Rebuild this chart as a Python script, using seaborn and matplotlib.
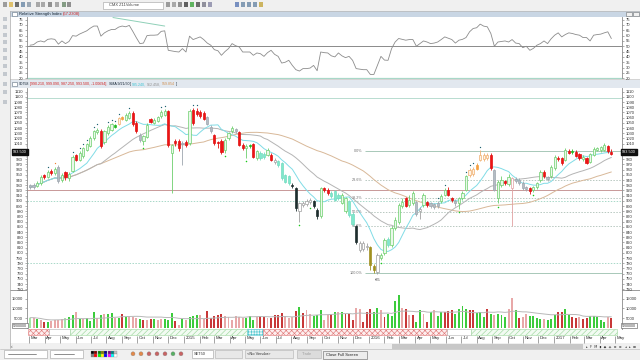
import numpy as np
import pandas as pd
import matplotlib
matplotlib.use("Agg")
import matplotlib.pyplot as plt
import matplotlib.transforms as mtrans
from matplotlib.patches import Rectangle
import seaborn as sns

sns.set_theme(style="white")
plt.rcParams["font.family"] = ["Liberation Sans", "DejaVu Sans"]
plt.rcParams["hatch.linewidth"] = 0.45

# ---------------- data (weekly bars) ----------------
start_date = "2014-03-03"

opens = [930, 927, 929, 934, 949, 945, 957, 953, 966, 941,
         955, 943, 957, 989, 979, 986, 998, 1006, 1021, 1032,
         1035, 1014, 1030, 1037, 1043, 1047, 1058, 1056, 1060, 1069,
         1050, 1027, 1016, 1022, 1058, 1050, 1054, 1063, 1066, 1072,
         992, 1016, 1016, 1012, 1014, 1011, 1075, 1072, 1071, 1069,
         1061, 1043, 1026, 1013, 1016, 998, 1020, 1034, 1038, 1032,
         1008, 1002, 1005, 1009, 982, 992, 990, 989, 989, 979,
         976, 973, 949, 947, 931, 924, 880, 892, 894, 897,
         899, 883, 870, 924, 921, 916, 918, 912, 896, 880,
         899, 875, 851, 806, 808, 812, 812, 774, 764, 790,
         800, 827, 815, 848, 860, 890, 905, 892, 896, 897,
         880, 892, 897, 895, 893, 890, 899, 912, 921, 905,
         900, 896, 905, 921, 949, 952, 962, 979, 980, 983,
         989, 960, 905, 930, 938, 932, 944, 938, 940, 935,
         926, 924, 920, 926, 940, 956, 945, 947, 963, 983,
         982, 979, 996, 994, 994, 990, 980, 982, 975, 989,
         998, 997, 998, 1005, 990.21]
highs = [933, 934, 938, 949, 952, 960, 961, 966, 968, 953,
         958, 956, 988, 991, 995, 1004, 1012, 1024, 1037, 1041,
         1038, 1037, 1046, 1050, 1048, 1061, 1064, 1069, 1073, 1072,
         1053, 1030, 1027, 1049, 1060, 1059, 1064, 1074, 1076, 1074,
         1010, 1019, 1019, 1015, 1017, 1076, 1078, 1079, 1074, 1072,
         1064, 1046, 1029, 1016, 1019, 1021, 1033, 1044, 1041, 1035,
         1011, 1009, 1010, 1012, 998, 995, 994, 1001, 992, 982,
         978, 975, 952, 950, 934, 926, 898, 900, 903, 906,
         902, 886, 927, 927, 924, 919, 920, 915, 915, 908,
         902, 878, 853, 822, 822, 818, 814, 778, 800, 800,
         829, 831, 851, 868, 895, 906, 908, 912, 918, 900,
         888, 915, 900, 898, 896, 900, 913, 924, 926, 908,
         903, 908, 918, 950, 963, 966, 972, 997, 992, 993,
         992, 962, 940, 948, 941, 952, 946, 945, 944, 938,
         929, 927, 929, 937, 959, 959, 948, 969, 988, 986,
         985, 1001, 999, 999, 997, 993, 988, 985, 993, 1003,
         1004, 1006, 1011, 1008, 999.09]
lows = [922, 923, 926, 931, 942, 943, 950, 950, 935, 936,
        940, 938, 955, 976, 976, 983, 995, 1003, 1018, 1029,
        1001, 1010, 1027, 1034, 1041, 1045, 1056, 1054, 1058, 1044,
        1031, 1014, 1008, 1020, 1049, 1048, 1051, 1060, 1064, 1004,
        915, 1006, 996, 969, 1003, 1008, 1046, 1064, 1060, 1055,
        1045, 1031, 1007, 1001, 990, 992, 1017, 1031, 1030, 1005,
        998, 982, 1002, 982, 978, 979, 981, 986, 976, 970,
        965, 941, 934, 931, 925, 880, 860, 888, 890, 893,
        887, 866, 867, 917, 911, 906, 899, 901, 893, 876,
        869, 851, 817, 802, 804, 806, 767, 761, 760, 786,
        796, 811, 812, 844, 856, 886, 888, 888, 892, 870,
        865, 888, 888, 886, 884, 886, 895, 909, 909, 897,
        890, 885, 902, 918, 946, 948, 960, 976, 976, 979,
        960, 918, 895, 926, 931, 929, 852, 935, 931, 921,
        918, 914, 917, 923, 936, 944, 939, 944, 960, 976,
        968, 976, 990, 991, 984, 979, 977, 970, 972, 986,
        995, 994, 995, 992, 987.25]
closes = [926, 930, 935, 946, 945, 955, 954, 962, 938, 950,
          945, 952, 985, 979, 992, 1001, 1009, 1021, 1034, 1037,
          1005, 1034, 1043, 1047, 1045, 1059, 1062, 1066, 1069, 1047,
          1035, 1017, 1024, 1046, 1052, 1056, 1061, 1071, 1072, 1007,
          1007, 1011, 1001, 1010, 1007, 1072, 1050, 1068, 1064, 1058,
          1048, 1034, 1011, 1011, 994, 1018, 1030, 1040, 1034, 1008,
          1002, 1006, 1007, 985, 995, 982, 985, 998, 979, 974,
          968, 944, 937, 934, 928, 886, 895, 896, 899, 902,
          891, 870, 924, 921, 915, 910, 902, 905, 912, 905,
          873, 855, 820, 818, 818, 814, 777, 766, 796, 795,
          825, 815, 848, 864, 892, 898, 891, 902, 915, 874,
          884, 912, 892, 890, 888, 896, 910, 920, 912, 901,
          895, 905, 915, 947, 960, 962, 969, 989, 988, 989,
          963, 921, 937, 940, 935, 945, 925, 942, 935, 924,
          922, 918, 926, 934, 956, 947, 942, 966, 985, 980,
          973, 998, 993, 996, 987, 982, 985, 973, 990, 1000,
          1001, 1003, 1008, 995, 993.5]
candle_kind = ["y", "y", "g", "g", "r", "g", "r", "g", "y", "g",
               "r", "g", "g", "r", "g", "g", "g", "g", "g", "g",
               "r", "g", "g", "g", "G", "o", "of", "g", "g", "r",
               "r", "y", "g", "g", "r", "g", "g", "g", "g", "r",
               "g", "r", "r", "y", "r", "g", "r", "r", "r", "r",
               "y", "y", "r", "r", "r", "g", "g", "g", "y", "r",
               "r", "g", "G", "r", "g", "c", "c", "g", "r", "w",
               "c", "c", "c", "c", "k", "k", "w", "w", "w", "w",
               "k", "k", "g", "r", "r", "c", "c", "c", "g", "g",
               "c", "c", "k", "w", "w", "w", "ol", "ol", "w", "g",
               "g", "c", "g", "g", "g", "g", "r", "g", "g", "y",
               "w", "g", "r", "y", "y", "y", "g", "g", "r", "r",
               "y", "g", "g", "g", "o", "o", "of", "o", "o", "o",
               "r", "y", "g", "g", "r", "g", "p", "y", "y", "y",
               "y", "r", "g", "g", "g", "r", "y", "g", "g", "r",
               "r", "g", "r", "G", "r", "r", "g", "r", "g", "g",
               "g", "g", "g", "r", "r"]

volume = [5200, 5200, 4600, 4100, 2900, 2900, 3300, 4100, 4100, 4600,
          5000, 5500, 6700, 8100, 4600, 4600, 5000, 3300, 8100, 5000,
          6700, 7100, 6900, 7400, 5000, 5000, 7200, 5300, 5700, 5500,
          5000, 4600, 3800, 4100, 4300, 4300, 4100, 4600, 4600, 4100,
          7700, 3300, 1500, 4600, 4100, 5500, 6000, 6400, 6700, 4300,
          8400, 5000, 5800, 6700, 7200, 5800, 5500, 4100, 6000, 5500,
          5200, 5200, 6000, 4100, 5500, 6000, 5500, 5200, 5000, 6700,
          6400, 7600, 6000, 5200, 5500, 8600, 10700, 7700, 9300, 7200,
          6000, 6400, 9300, 4100, 6700, 7200, 8100, 8100, 8100, 7200,
          7200, 4100, 10300, 9800, 2900, 8100, 9800, 8100, 10300, 8900,
          5500, 7100, 5800, 13800, 16700, 10200, 9600, 6400, 6400, 2900,
          8900, 6900, 2900, 8100, 8900, 5800, 8100, 8100, 8400, 8900,
          7200, 9800, 11200, 9500, 8900, 8900, 7700, 8100, 5500, 9500,
          7000, 6400, 6900, 6400, 5500, 9800, 15500, 8900, 5000, 5500,
          6900, 6000, 6000, 5200, 4600, 4300, 3800, 4600, 6400, 8100,
          8100, 9800, 6700, 5500, 5000, 5500, 4600, 5200, 6000, 6000,
          5500, 4100, 2900, 5500, 5200]
volume_kind = ["l", "p", "G", "p", "R", "G", "p", "p", "p", "p",
               "l", "G", "G", "p", "G", "p", "G", "G", "G", "p",
               "G", "p", "G", "G", "p", "G", "R", "G", "p", "p",
               "p", "G", "R", "p", "R", "G", "p", "p", "G", "G",
               "G", "R", "p", "G", "p", "G", "G", "G", "p", "p",
               "R", "R", "R", "R", "R", "p", "p", "p", "p", "p",
               "p", "G", "G", "G", "p", "R", "R", "p", "R", "R",
               "R", "R", "p", "p", "p", "R", "G", "R", "p", "p",
               "G", "G", "G", "p", "p", "R", "G", "p", "G", "R",
               "R", "R", "p", "p", "R", "R", "R", "G", "G", "p",
               "R", "G", "G", "G", "G", "p", "R", "p", "R", "G",
               "G", "p", "R", "G", "p", "G", "G", "R", "R", "R",
               "G", "G", "G", "G", "R", "R", "G", "G", "G", "R",
               "G", "p", "G", "G", "G", "p", "p", "G", "R", "p",
               "p", "G", "G", "G", "G", "p", "G", "G", "G", "R",
               "R", "G", "G", "R", "R", "p", "R", "R", "G", "G",
               "G", "G", "G", "p", "R"]

rsi = [51, 51.5, 54, 55, 54, 56.5, 57, 56.5, 52, 55,
       52.5, 54.5, 60, 59.5, 61.5, 63, 64.5, 67, 69, 69,
       59.5, 62.6, 64.5, 65.8, 65.8, 68, 69, 68.3, 69.6, 64,
       58, 52.5, 53, 60, 60.4, 60.4, 60.7, 64, 64.5, 46.2,
       45.6, 45, 44.6, 47.8, 44.6, 59.5, 56.3, 57.5, 58.8, 56.3,
       53, 51, 46.8, 45.8, 41.5, 45, 47.8, 52.5, 50.5, 49.4,
       44.6, 44.6, 44.6, 41.5, 43.7, 43, 40.5, 44, 46.2, 42.4,
       40.5, 34.2, 35, 36.8, 32, 28, 26.7, 29, 29, 29.5,
       32, 27, 44.6, 44, 43.7, 41, 40, 43.7, 41, 39.3,
       40.5, 36.8, 29, 28.5, 28, 28, 23.5, 23.5, 32, 40.5,
       37, 36.8, 47.8, 54, 57.3, 56.5, 55.7, 56.3, 56.3, 50,
       52.5, 55, 54, 52.5, 53, 54, 56.3, 58.8, 57.5, 56.3,
       53, 55.7, 56.5, 58.2, 63.6, 66.7, 67.4, 70.8, 68.9, 68.3,
       62, 50, 54, 54.5, 55, 54, 56.3, 53, 52.5, 48.7,
       50, 46.2, 48, 51, 52.5, 55, 52.5, 57, 60.4, 62.6,
       58.8, 61, 62.6, 62, 61, 60.4, 58.2, 58.2, 55, 60.4,
       61, 61.4, 62.6, 63.6, 57.23]

dots_above = [5, 12, 14, 15, 16, 18, 19, 22, 23, 24, 25, 28, 37, 38, 46, 47,
              115, 117, 123, 124, 125, 127]
dots_above_orange = [7]
dots_below = [32, 55, 61, 76, 79, 99, 121, 132, 142]

fib_high, fib_low = 996.3, 760.7
fib_levels = [0.0, 23.6, 38.2, 50.0, 61.8, 100.0]
fib_start_week = 94.5
level_lines = [1098, 920, 900, 780]
rsi_trend_x = [23.4, 38.0]
rsi_trend_y = [77.0, 69.0]

strip_bounds = [-0.6, 5.4, 11.3, 61.1, 65.8, 117.5, 124.5, 165.5]
strip_kind = ["red", "blank", "green", "cyan", "red", "blank", "green"]

month_names = ["Jan", "Feb", "Mar", "Apr", "May", "Jun", "Jul", "Aug",
               "Sep", "Oct", "Nov", "Dec"]

rsi_title = [("Relative Strength Index", "#102030"), ("(57.2308)", "#d02020")]
price_title = [("S0758", "#102030"),
               ("[990.210, 999.090, 987.250, 993.500, -1.00694],", "#d02020"),
               ("SMA 9/21/50", "#102030"), ("[", "#102030"),
               ("985.240,", "#3cc4d4"), ("962.458,", "#909090"),
               ("959.854", "#d09050"), ("]", "#102030")]

# ---------------- derived ----------------
n = len(closes)
idx = np.arange(n)
t0 = pd.Timestamp(start_date)
df = pd.DataFrame({"week": idx, "open": opens, "high": highs, "low": lows,
                   "close": closes, "volume": volume, "rsi": rsi})
df["sma9"] = df["close"].rolling(9, min_periods=1).mean()
df["sma21"] = df["close"].rolling(21, min_periods=1).mean()
df["sma50"] = df["close"].rolling(50, min_periods=1).mean()
df["vma"] = df["volume"].rolling(20, min_periods=1).mean()

XL = (-0.85, 167.0)

W, H = 640, 360
fig = plt.figure(figsize=(W / 100, H / 100), dpi=100)
fig.patch.set_facecolor("#f0f0f0")
renderer = fig.canvas.get_renderer()


def px_axes(x0, y0, x1, y1, z=2):
    ax = fig.add_axes([x0 / W, 1 - y1 / H, (x1 - x0) / W, (y1 - y0) / H])
    ax.set_zorder(z)
    return ax


bg = px_axes(0, 0, W, H, z=0)
bg.set_xlim(0, W)
bg.set_ylim(H, 0)
bg.axis("off")


def rect(x, y, w, h, fc, ec="none", lw=0.0, **kw):
    bg.add_patch(Rectangle((x, y), w, h, facecolor=fc, edgecolor=ec,
                           linewidth=lw, **kw))


def txt(x, y, s, size=3.2, color="#202020", **kw):
    return bg.text(x, y, s, fontsize=size, color=color, va="center", **kw)


def seq_text(x, y, parts, size, gap=1.3):
    for s, col in parts:
        t = txt(x, y, s, size=size, color=col)
        x += t.get_window_extent(renderer=renderer).width + gap
    return x


# chrome: panels
rect(9.5, 10.5, 630.5, 6.5, "#c9d6e4")
rect(9.5, 17, 630.5, 61.5, "white")
rect(9.5, 78.5, 630.5, 1.8, "#d4d4d4")
rect(9.5, 80.3, 630.5, 7.7, "#e2e8ef")
rect(9.5, 88, 630.5, 255, "white")
bg.plot([9.5, 640], [290.3, 290.3], color="#9a9a9a", lw=0.7)
bg.plot([9.5, 640], [10.5, 10.5], color="#b8b8b8", lw=0.5)
bg.plot([9.5, 9.5], [10.5, 348], color="#a8a8a8", lw=0.5)
# top toolbar icons
for x, c in [(3, "#808080"), (9, "#d8b040"), (15, "#404040"), (21, "#6080a0"),
             (27, "#8090a0"), (36, "#909090"), (41, "#909090"), (48, "#707070"),
             (55, "#909090"), (62, "#608060"), (67, "#707070")]:
    rect(x, 2.2, 4.2, 5.0, c, alpha=0.75)
rect(103, 1.5, 60, 7, "white", ec="#a0a0a0", lw=0.4)
txt(109, 5, "CMX Z11Volume", size=2.9, color="#404040")
for x, c in [(166, "#808080"), (172, "#909090"), (178, "#707070"), (184, "#303030"),
             (190, "#30a030"), (196, "#404040"), (202, "#707080"), (208, "#8080a0"),
             (235, "#5070b0"), (241, "#6080a0"), (247, "#6080a0"), (253, "#6080a0"),
             (259, "#c0a030")]:
    rect(x, 2.2, 4.2, 5.0, c, alpha=0.75)
# left toolbar icons
for y in [17, 25, 33, 40, 48, 56, 64, 72, 82, 90, 100]:
    rect(2.5, y, 4, 4, "#b0b8c0", alpha=0.7)
rect(12, 11.7, 5, 4.3, "white", ec="#607080", lw=0.4)
seq_text(19, 13.8, rsi_title, size=3.0)
for x in [626, 633]:
    rect(x, 11.5, 5.5, 4.8, "#f0f0f0", ec="#707070", lw=0.4)
rect(12, 81.7, 5, 4.3, "white", ec="#607080", lw=0.4)
seq_text(19, 84.2, price_title, size=2.6, gap=1.0)
# scrollbar + bottom toolbar
rect(9.5, 343, 630.5, 5.5, "#f0f0f0")
rect(392, 344, 191, 4.5, "#c8c8c8")
txt(586, 346.2, "▸  F  M  ▮  ◆  ◈  ⊙  ⊙   ◂  ▸  ⊟", size=2.5, color="#303030",
    family=["DejaVu Sans"])
txt(11, 346, "‹", size=3.5, color="#404040")
bg.plot([0, 640], [348.5, 348.5], color="#c0c0c0", lw=0.5)
rect(4, 350, 43, 7.5, "white", ec="#a0a0a0", lw=0.4)
bg.plot([8, 36], [353.8, 353.8], color="#606060", lw=0.5)
rect(50, 350, 33, 7.5, "white", ec="#a0a0a0", lw=0.4)
bg.plot([54, 74], [353.8, 353.8], color="#606060", lw=0.5)
pal = ["#000000", "#800000", "#008000", "#808000", "#000080", "#800080", "#008080", "#c0c0c0",
       "#808080", "#ff0000", "#00ff00", "#ffff00", "#0000ff", "#ff00ff", "#00ffff", "#ffffff"]
for k, c in enumerate(pal):
    rect(91 + (k % 8) * 3.3, 350.5 + (k // 8) * 3.3, 3.0, 3.0, c, ec="#808080", lw=0.2)
for x, c in [(131, "#e07020"), (139, "#e07020"), (147, "#c04040"), (155, "#c04040"),
             (163, "#c04040"), (171, "#30a040"), (179, "#c04040")]:
    bg.add_patch(plt.Circle((x + 2, 353.8), 2.0, facecolor=c, edgecolor="#808080",
                            linewidth=0.3, alpha=0.8))
rect(192, 350, 21, 7.5, "white", ec="#a0a0a0", lw=0.4)
txt(194, 353.8, "SET50", size=2.9, color="#303030")
rect(215, 350, 27, 7.5, "#e8e8e8", ec="#b0b0b0", lw=0.4)
rect(245, 350, 48, 7.5, "#e8e8e8", ec="#b0b0b0", lw=0.4)
txt(247, 353.8, "<No Vendor>", size=2.9, color="#303030")
rect(297, 350, 24, 7.5, "#dcdcdc", ec="#b0b0b0", lw=0.4)
txt(302, 353.8, "Trade", size=2.9, color="#a0a0a0")
rect(323, 350.5, 44, 8, "#ececec", ec="#808080", lw=0.5)
txt(326, 354.5, "Close Full Screen", size=3.0, color="#202020")


def style_panel(ax):
    ax.set_facecolor("white")
    for s in ["top", "bottom"]:
        ax.spines[s].set_visible(False)
    for s in ["left", "right"]:
        ax.spines[s].set_visible(True)
        ax.spines[s].set_color("#8a8a8a")
        ax.spines[s].set_linewidth(0.6)
    ax.tick_params(axis="y", which="both", left=True, right=True, labelleft=True,
                   labelright=True, length=1.6, width=0.4, color="#707070",
                   labelsize=3.0, labelcolor="#303030", pad=1.2)
    ax.tick_params(axis="x", bottom=False, labelbottom=False)
    ax.set_xlim(*XL)
    ax.grid(False)
    ax.set_xlabel("")
    ax.set_ylabel("")


# ---------------- RSI panel ----------------
ax_rsi = px_axes(27, 17, 622, 78.5)
sns.lineplot(data=df, x="week", y="rsi", ax=ax_rsi, color="#8c8c8c", lw=0.6,
             legend=False)
ax_rsi.axhline(50, color="#8a8a8a", lw=0.7)
ax_rsi.axhline(20, color="#a8d8c8", lw=0.9)
ax_rsi.plot(rsi_trend_x, rsi_trend_y, color="#8fd0b8", lw=0.7)
ax_rsi.set_ylim(19.7, 77.5)
ax_rsi.set_yticks(np.arange(20, 80, 5))
style_panel(ax_rsi)

# ---------------- price panel ----------------
ax_p = px_axes(27, 88, 622, 290.3)
style_panel(ax_p)
face_map = {"g": "#eaf8ea", "G": "#22bb22", "r": "#ee1414", "y": "#b4bcc4",
            "o": "#fff3e4", "of": "#f5a040", "c": "#80e8cc", "k": "#1e2e2e",
            "w": "#ffffff", "p": "#ffffff", "ol": "#a09020"}
edge_map = {"g": "#6ccf6c", "G": "#22bb22", "r": "#e01010", "y": "#9ea6ae",
            "o": "#f0b070", "of": "#f5a040", "c": "#74dcc0", "k": "#1e2e2e",
            "w": "#a0a0a0", "p": "#e0a0a0", "ol": "#a09020"}
faces = [face_map[k] for k in candle_kind]
edges = [edge_map[k] for k in candle_kind]
o = np.array(opens, float)
c = np.array(closes, float)
body_bottom = np.minimum(o, c)
body_h = np.maximum(np.abs(c - o), 1.2)

for lv, col, ls in zip(level_lines, ["#b8dcd0", "#c89898", "#a8d8c8", "#a8d8c8"],
                       ["-", "-", (0, (1.5, 1.5)), (0, (1.5, 1.5))]):
    ax_p.axhline(lv, color=col, lw=0.7, ls=ls, zorder=1)
for lvl in fib_levels:
    price = fib_high - lvl / 100.0 * (fib_high - fib_low)
    solid = lvl in (0.0, 100.0)
    ax_p.hlines(price, fib_start_week, XL[1], color="#a8c8b8" if solid else "#b8c8c0",
                lw=0.7, ls="-" if solid else (0, (1.5, 1.5)), zorder=1)
    ax_p.text(fib_start_week - 0.8, price, f"{lvl:.1f}%", fontsize=2.7,
              color="#707070", ha="right", va="center")

sns.lineplot(data=df, x="week", y="sma50", ax=ax_p, color="#d8b898", lw=0.7,
             legend=False, zorder=2)
sns.lineplot(data=df, x="week", y="sma21", ax=ax_p, color="#b4b4b4", lw=0.7,
             legend=False, zorder=2)
sns.lineplot(data=df, x="week", y="sma9", ax=ax_p, color="#80dce6", lw=0.7,
             legend=False, zorder=2)
ax_p.vlines(idx, lows, highs, colors=edges, lw=0.6, zorder=3)
ax_p.bar(idx, body_h, bottom=body_bottom, width=0.62, color=faces, edgecolor=edges,
         linewidth=0.5, zorder=4)
hi = np.array(highs, float)
lo = np.array(lows, float)
ax_p.scatter(np.array(dots_above), hi[dots_above] + 6, s=0.9, color="#1d6070", zorder=5,
             linewidths=0)
ax_p.scatter(np.array(dots_above_orange), hi[dots_above_orange] + 6, s=0.9,
             color="#f08030", zorder=5, linewidths=0)
ax_p.scatter(np.array(dots_below), lo[dots_below] - 6, s=1.2, color="#18c818", zorder=5,
             linewidths=0)
low_i = int(np.argmin(lows))
ax_p.text(low_i, lows[low_i] - 13, "•35", fontsize=2.7, color="#404040", ha="center",
          va="center")
ax_p.set_ylim(727.9, 1117.1)
price_ticks = np.arange(730, 1111, 10)
ax_p.set_yticks(price_ticks)
ax_p.set_yticks(np.arange(730, 1115, 5), minor=True)
style_panel(ax_p)
ax_p.tick_params(axis="y", which="minor", labelleft=False, labelright=False,
                 length=0.9, width=0.3)
last = closes[-1]
# the current-price badges sit on top of the tick labels they cover
for tk, val in zip(ax_p.yaxis.get_major_ticks(), price_ticks):
    if abs(val - last) < 7:
        tk.label1.set_visible(False)
        tk.label2.set_visible(False)
blend_r = mtrans.blended_transform_factory(ax_p.transAxes, ax_p.transData)
ax_p.text(1.0, last, f"{last:.3f}", transform=blend_r, ha="left", va="center",
          fontsize=2.8, color="white", clip_on=False, zorder=10,
          bbox=dict(boxstyle="square,pad=0.2", fc="#101010", ec="#101010"))
ax_p.text(0.0, last, f"{last:.3f}", transform=blend_r, ha="right", va="center",
          fontsize=2.8, color="white", clip_on=False, zorder=10,
          bbox=dict(boxstyle="square,pad=0.2", fc="#101010", ec="#101010"))

# ---------------- volume panel ----------------
ax_v = px_axes(27, 290.3, 622, 328.5)
vcol = {"G": "#3ccc3c", "l": "#a6e4a6", "R": "#c83838", "p": "#e8a8a8"}
ax_v.bar(idx, volume, width=0.55, color=[vcol[k] for k in volume_kind], linewidth=0,
         zorder=2)
sns.lineplot(data=df, x="week", y="vma", ax=ax_v, color="#b8b8b8", lw=0.7,
             legend=False, zorder=3)
ax_v.set_ylim(-360, 19200)
ax_v.set_yticks([5000, 10000, 15000])
style_panel(ax_v)
ax_v.spines["bottom"].set_visible(True)
ax_v.spines["bottom"].set_color("#9a9a9a")
ax_v.spines["bottom"].set_linewidth(0.5)
blend_v = mtrans.blended_transform_factory(ax_v.transAxes, ax_v.transData)
vlabel = f"{volume[-1] * 1000:d}"
ax_v.text(0.0, 0, vlabel, transform=blend_v, ha="right", va="bottom", fontsize=2.6,
          color="#303030", clip_on=False,
          bbox=dict(boxstyle="square,pad=0.15", fc="white", ec="#505050", lw=0.4))
ax_v.text(1.0, 0, vlabel, transform=blend_v, ha="left", va="bottom", fontsize=2.6,
          color="#303030", clip_on=False,
          bbox=dict(boxstyle="square,pad=0.15", fc="white", ec="#505050", lw=0.4))

# ---------------- trend strip + date axis ----------------
ax_s = px_axes(27, 329, 622, 335.5)
ax_s.set_xlim(*XL)
ax_s.set_ylim(0, 1)
ax_s.set_facecolor("white")
for s in ax_s.spines.values():
    s.set_visible(False)
style = {"red": ("#fdeeee", "#e07a7a", "xxxxxx"),
         "blank": ("#ffffff", "#b0b0b0", None),
         "green": ("#f2fbf2", "#9fd89f", "//////"),
         "cyan": ("#effbfb", "#55c8d0", "++++++")}
for a, b, k in zip(strip_bounds[:-1], strip_bounds[1:], strip_kind):
    fc, ec, hatch = style[k]
    ax_s.add_patch(Rectangle((a, 0.02), b - a, 0.96, facecolor=fc, edgecolor=ec,
                             hatch=hatch, linewidth=0.4))
months = pd.date_range("2014-03-01", "2017-05-01", freq="MS")
mpos = (months - t0).days / 7.0
mlab = [str(d.year) if d.month == 1 else month_names[d.month - 1] for d in months]
ax_s.set_yticks([])
ax_s.set_xticks(mpos)
ax_s.set_xticklabels(mlab)
ax_s.tick_params(axis="x", bottom=True, labelbottom=True, length=5.0, width=0.4,
                 color="#606060", labelsize=3.2, labelcolor="#303030", pad=-4.4,
                 direction="out")
shift = mtrans.ScaledTranslation(1.2 / 72, 0, fig.dpi_scale_trans)
for lab in ax_s.get_xticklabels():
    lab.set_horizontalalignment("left")
    lab.set_transform(lab.get_transform() + shift)

fig.savefig("out.png", dpi=100, facecolor=fig.get_facecolor())
